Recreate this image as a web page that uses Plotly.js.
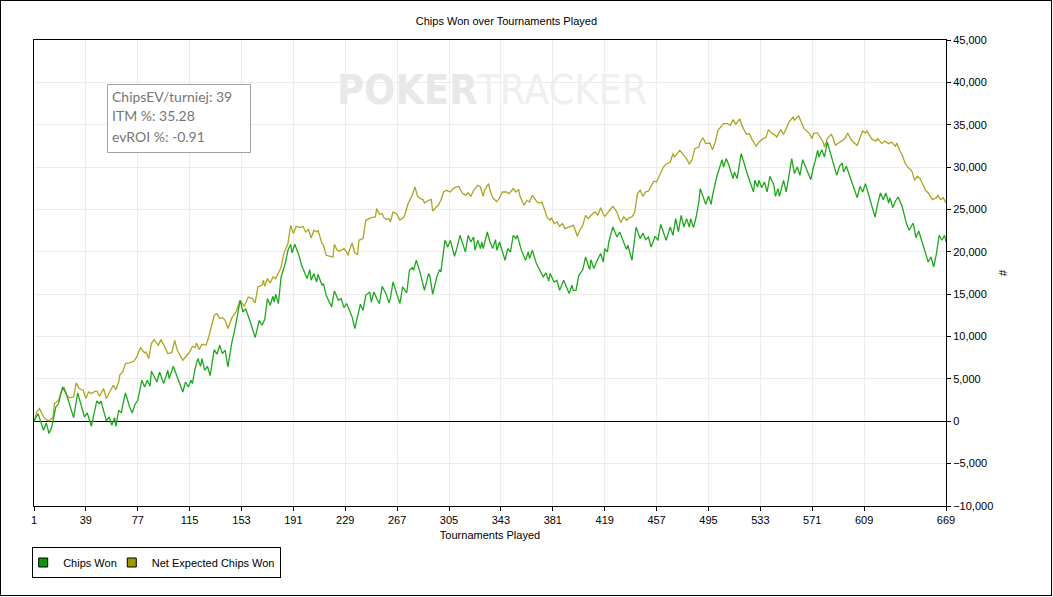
<!DOCTYPE html>
<html>
<head>
<meta charset="utf-8">
<script src="https://cdn.plot.ly/plotly-3.0.1.min.js"></script>
<style>
  html, body { margin:0; padding:0; background:#fff; }
  #wrap { position:relative; width:1053px; height:597px; }
  #chart { width:1053px; height:597px; }
  #frame { position:absolute; left:0; top:0; width:1052px; height:596px; border:1px solid #000; box-sizing:border-box; pointer-events:none; }
</style>
</head>
<body>
<div id="wrap"><div id="chart"></div><div id="frame"></div></div>
<script>
// ---- Data ----
const chipsWonT = [1,4,8,10,12,14,17,19,21,22,25,30,33,38,40,43,47,49,50,54,56,58,60,61,63,65,66,68,71,73,75,77,80,82,84,86,87,91,93,96,99,100,103,105,110,112,114,116,117,119,121,123,124,126,128,130,133,135,137,139,141,143,146,148,152,154,156,159,163,166,168,170,172,174,176,177,178,180,182,185,187,189,190,192,195,197,201,203,204,206,208,209,212,213,215,219,221,224,226,228,230,234,236,240,242,244,247,248,250,252,254,256,259,261,262,264,267,269,271,274,276,278,279,281,284,287,290,291,293,296,298,299,302,304,306,309,311,313,315,317,319,321,323,324,326,328,329,330,333,335,337,339,340,342,346,348,350,352,354,355,358,361,363,364,366,369,374,376,378,379,382,384,386,389,391,393,395,396,398,400,401,403,405,408,409,411,413,416,418,419,421,422,425,428,430,433,435,436,439,442,445,447,449,451,453,456,458,460,462,464,467,469,471,473,475,477,479,481,482,484,486,488,489,491,493,495,497,498,501,505,506,508,510,513,514,516,519,523,528,529,531,532,534,536,538,540,543,544,546,547,550,552,556,558,560,562,564,567,570,572,573,575,576,578,580,582,585,589,591,593,594,596,597,600,604,606,608,610,613,617,619,621,623,625,627,628,630,632,634,637,640,642,645,647,649,652,656,658,660,662,664,666,668,669];
const chipsWonV = [0,900,-1060,-200,-1450,-670,1690,2090,3460,4050,3070,430,3350,510,990,-590,2400,2090,2400,40,520,-470,430,-590,1300,990,1890,3350,1690,990,2010,2480,4840,4050,4840,4130,5940,4640,5820,4450,6020,5040,6490,5550,3460,4640,4050,4840,4450,6220,7400,6490,7400,6020,6490,5390,8460,7910,8970,7990,8380,6410,9360,10740,14280,12900,13300,11920,9870,11920,11330,12000,14480,13690,14750,14080,14990,13890,17030,18610,20180,20890,19860,20890,19590,18410,16840,17900,16640,17430,16440,17350,16050,16250,14870,13490,15380,14280,14480,13410,13890,12310,10940,13810,13100,14870,15260,14080,15260,14480,13890,15930,14990,13970,14480,16440,15070,13890,15850,15140,17820,18130,17820,19000,17430,15460,17430,17110,14990,17030,17900,17620,21360,20570,21360,19470,20570,21950,20970,19980,21950,21160,21750,20180,21360,20380,21160,20380,22340,21160,20380,21440,20180,21160,19000,20380,19980,21950,21560,21950,20180,19000,19980,19200,20180,18610,17030,17510,16560,17430,16440,16640,15460,16640,15850,15070,16050,15460,15460,17230,17430,17900,19390,17900,19080,18020,18800,19790,18800,20380,19980,21160,22930,21750,22340,21050,20260,20770,19000,22930,21560,22230,21440,21750,20570,21830,21360,23250,22340,21360,22930,21950,23920,22340,24310,22930,23920,22930,23920,22850,24110,25880,27460,26550,25610,26550,25610,26670,28830,30880,30010,31000,30210,28640,29420,28640,31590,29420,27060,28440,27650,28440,27570,28240,27060,28910,27850,26550,27460,26550,28440,27060,31000,29230,30010,29030,30880,29700,28520,30090,30600,31980,31190,32060,31190,32960,31190,29030,30090,30480,29420,30090,29620,28240,26390,27730,27060,28050,26470,24110,25690,26940,26160,26940,25760,26390,25210,26000,26470,25290,23330,22540,23400,21670,22460,20770,18800,19390,18210,19790,21950,21360,21950,21160];

const netExpT = [1,3,5,8,10,12,15,16,19,21,23,25,27,30,32,34,37,39,41,43,45,47,49,52,54,56,59,61,63,64,66,68,71,74,76,79,82,83,85,87,89,92,94,97,99,102,104,106,110,113,115,117,119,120,122,124,127,129,131,133,135,137,139,141,143,146,149,152,155,158,161,163,165,168,169,170,172,174,176,178,181,182,184,187,189,191,193,196,198,200,202,204,206,208,209,212,213,215,218,220,221,223,225,228,230,231,232,234,236,238,239,242,244,246,248,251,252,254,256,257,259,261,262,264,267,269,272,273,275,278,280,282,284,286,287,290,292,293,295,297,299,301,303,306,308,310,312,313,315,317,319,321,323,326,328,330,331,334,335,337,340,342,344,347,349,352,354,356,357,360,362,364,366,369,371,373,375,377,379,380,382,384,386,388,390,393,396,397,399,401,403,405,407,409,412,414,416,418,419,421,423,425,428,430,431,433,435,437,439,441,443,445,447,449,451,453,455,457,460,462,464,467,469,470,472,474,477,479,481,483,485,488,489,491,493,496,498,500,502,505,506,509,511,513,515,518,519,521,523,525,527,530,532,535,537,539,541,544,545,548,550,552,554,557,558,561,563,565,567,569,571,572,575,577,579,580,582,585,586,588,590,593,595,597,599,601,604,606,608,610,611,613,615,618,619,622,624,627,629,632,633,635,637,639,641,644,646,648,650,652,654,656,659,662,663,665,667,669];
const netExpV = [0,1100,1500,510,200,40,510,2090,2480,3460,4050,3070,2760,2870,4530,3860,3660,2680,3460,3270,3460,3580,2950,3860,2680,3270,4250,3740,4640,5550,5820,6810,6890,7080,7510,8690,8070,8180,7400,9170,9640,8970,9640,8690,7990,8100,9560,8380,7200,7790,8180,8850,8690,9240,8460,9090,8970,9950,11130,12510,12710,12120,12230,11920,10940,12230,12900,14280,13570,14670,14480,13970,15850,16050,16640,15930,16840,16320,17030,16840,17820,18210,19790,20970,23130,22150,23010,22850,23010,22340,22620,21630,22540,22340,22540,20970,20770,19590,19470,19390,20890,20180,20100,20380,19980,19590,20180,21040,19860,19710,21360,21560,23720,23920,24030,24110,25100,24430,24510,24110,23800,23920,23520,24700,24430,23720,24110,24580,25690,26670,27650,26550,26280,26160,25760,26080,26160,24820,25100,25490,26080,27060,27260,27060,27460,27650,27730,27460,26870,26670,26940,26550,27260,27850,27650,26550,27260,28050,27260,26390,25900,26390,27060,27060,26870,27460,27060,27340,26550,25490,26080,25880,26670,26000,25760,25880,24900,24030,23720,24030,23330,23520,23010,23330,22740,22930,23130,22740,21830,22620,23130,24310,23920,24310,24700,24310,25210,24430,24190,24580,24980,25370,24700,23720,23520,24110,23720,24030,24110,24700,26870,27260,26550,27060,27180,27850,28360,28240,29420,30010,30330,30600,31590,31190,31590,31980,31390,31000,30330,30880,32180,32370,32960,33470,32770,32840,32060,32960,34340,34930,35130,35130,34930,35600,35050,35720,35130,34420,33870,33950,33240,32450,32960,33360,33470,34420,34020,33750,33550,34420,33870,34540,35320,35910,35520,36070,35320,34540,34260,33950,33360,34020,34020,33550,32960,32370,33360,33870,33550,32570,32770,33160,33360,34020,33360,32960,32570,33470,34260,34020,34260,33750,33240,33080,33360,32770,33080,32770,32960,32450,32840,31980,31390,30480,30010,29540,28440,28910,28640,27970,27260,26940,26160,26390,26670,26160,26390,25760];

const xTickVals = [1,39,77,115,153,191,229,267,305,343,381,419,457,495,533,571,609,669];
const seriesNames = ['Chips Won', 'Net Expected Chips Won'];
const statLines = ['ChipsEV/turniej: 39', 'ITM %: 35.28', 'evROI %: -0.91'];

// ---- Styles ----
const GREEN_LINE = '#1fa81f';
const OLIVE_LINE = '#ada522';
const GREEN_KEY = '#109410';
const OLIVE_KEY = '#9c9a00';
const FONT = 'Liberation Sans, Arial, Helvetica, sans-serif';
const PX = (px) => (px - 34) / 912;      // page x -> paper x
const PY = (py) => (506 - py) / 466;     // page y -> paper y

const traces = [
  {x: netExpT, y: netExpV, type:'scatter', mode:'lines', line:{color:OLIVE_LINE, width:1.3}, showlegend:false, hoverinfo:'skip'},
  {x: chipsWonT, y: chipsWonV, type:'scatter', mode:'lines', line:{color:GREEN_LINE, width:1.3}, showlegend:false, hoverinfo:'skip'},
  {x:[null], y:[null], type:'scatter', mode:'markers', name:seriesNames[0], marker:{symbol:'square', size:9, color:GREEN_KEY, line:{color:'#000', width:1}}},
  {x:[null], y:[null], type:'scatter', mode:'markers', name:seriesNames[1], marker:{symbol:'square', size:9, color:OLIVE_KEY, line:{color:'#000', width:1}}}
];

const statAnnotations = statLines.map((t, i) => ({
  xref:'paper', yref:'paper', x:PX(110), y:PY(96 + 20 * i), xanchor:'left', yanchor:'middle',
  text:t, showarrow:false, align:'left',
  font:{family:'Lato, Noto Sans, sans-serif', size:14, color:'#777'}
}));

const layout = {
  width:1053, height:597,
  margin:{l:34, r:107, t:40, b:91, pad:0},
  paper_bgcolor:'#fff', plot_bgcolor:'#fff',
  font:{family:FONT, size:11, color:'#000'},
  showlegend:true,
  title:{text:'Chips Won over Tournaments Played', xref:'paper', x:0.518, xanchor:'center', yref:'container', y:1-21/597, yanchor:'middle', font:{family:FONT, size:11, color:'#000'}},
  xaxis:{
    range:[1,669], tickmode:'array', tickvals:xTickVals, ticktext:xTickVals.map(String),
    showgrid:true, gridcolor:'#ececec', gridwidth:1, zeroline:false,
    showline:true, mirror:true, linecolor:'#000', linewidth:1,
    ticks:'outside', ticklen:4, tickcolor:'#000', tickfont:{family:FONT, size:11, color:'#000'},
    title:{text:'Tournaments Played', standoff:6, font:{family:FONT, size:11, color:'#000'}},
    automargin:false, fixedrange:true
  },
  yaxis:{
    side:'right', range:[-10000,45000], tick0:0, dtick:5000, tickformat:',d',
    showgrid:true, gridcolor:'#ececec', gridwidth:1,
    zeroline:true, zerolinecolor:'#000', zerolinewidth:1,
    showline:true, mirror:true, linecolor:'#000', linewidth:1,
    ticks:'outside', ticklen:4, tickcolor:'#000', tickfont:{family:FONT, size:11, color:'#000'},
    automargin:false, fixedrange:true
  },
  legend:{orientation:'h', x:-0.002, xanchor:'left', y:-0.088, yanchor:'top', bordercolor:'#000', borderwidth:1, bgcolor:'#fff',
          font:{family:FONT, size:11, color:'#000'}, itemwidth:30, indentation:-10, traceorder:'normal'},
  shapes:[
    {type:'rect', xref:'paper', yref:'paper', x0:PX(107.5), x1:PX(250.5), y0:PY(84.5), y1:PY(152.5),
     line:{color:'#a0a0a0', width:1}, fillcolor:'#fff', layer:'above'}
  ],
  annotations:[
    ...statAnnotations,
    {xref:'paper', yref:'paper', x:PX(492), y:PY(90), xanchor:'center', yanchor:'middle',
     text:'<span style="color:#e8e8e8"><b>POKER</b></span><span style="color:#efefef">TRACKER</span>', showarrow:false,
     font:{family:'Liberation Sans Narrow, DejaVu Sans Condensed, Arial Narrow, sans-serif', size:41, color:'#ececec'}},
    {xref:'paper', yref:'paper', x:PX(1003), y:PY(273), xanchor:'center', yanchor:'middle',
     text:'#', textangle:-90, showarrow:false, font:{family:FONT, size:11, color:'#000'}}
  ]
};

Plotly.newPlot('chart', traces, layout, {staticPlot:true, displayModeBar:false});
</script>
</body>
</html>
